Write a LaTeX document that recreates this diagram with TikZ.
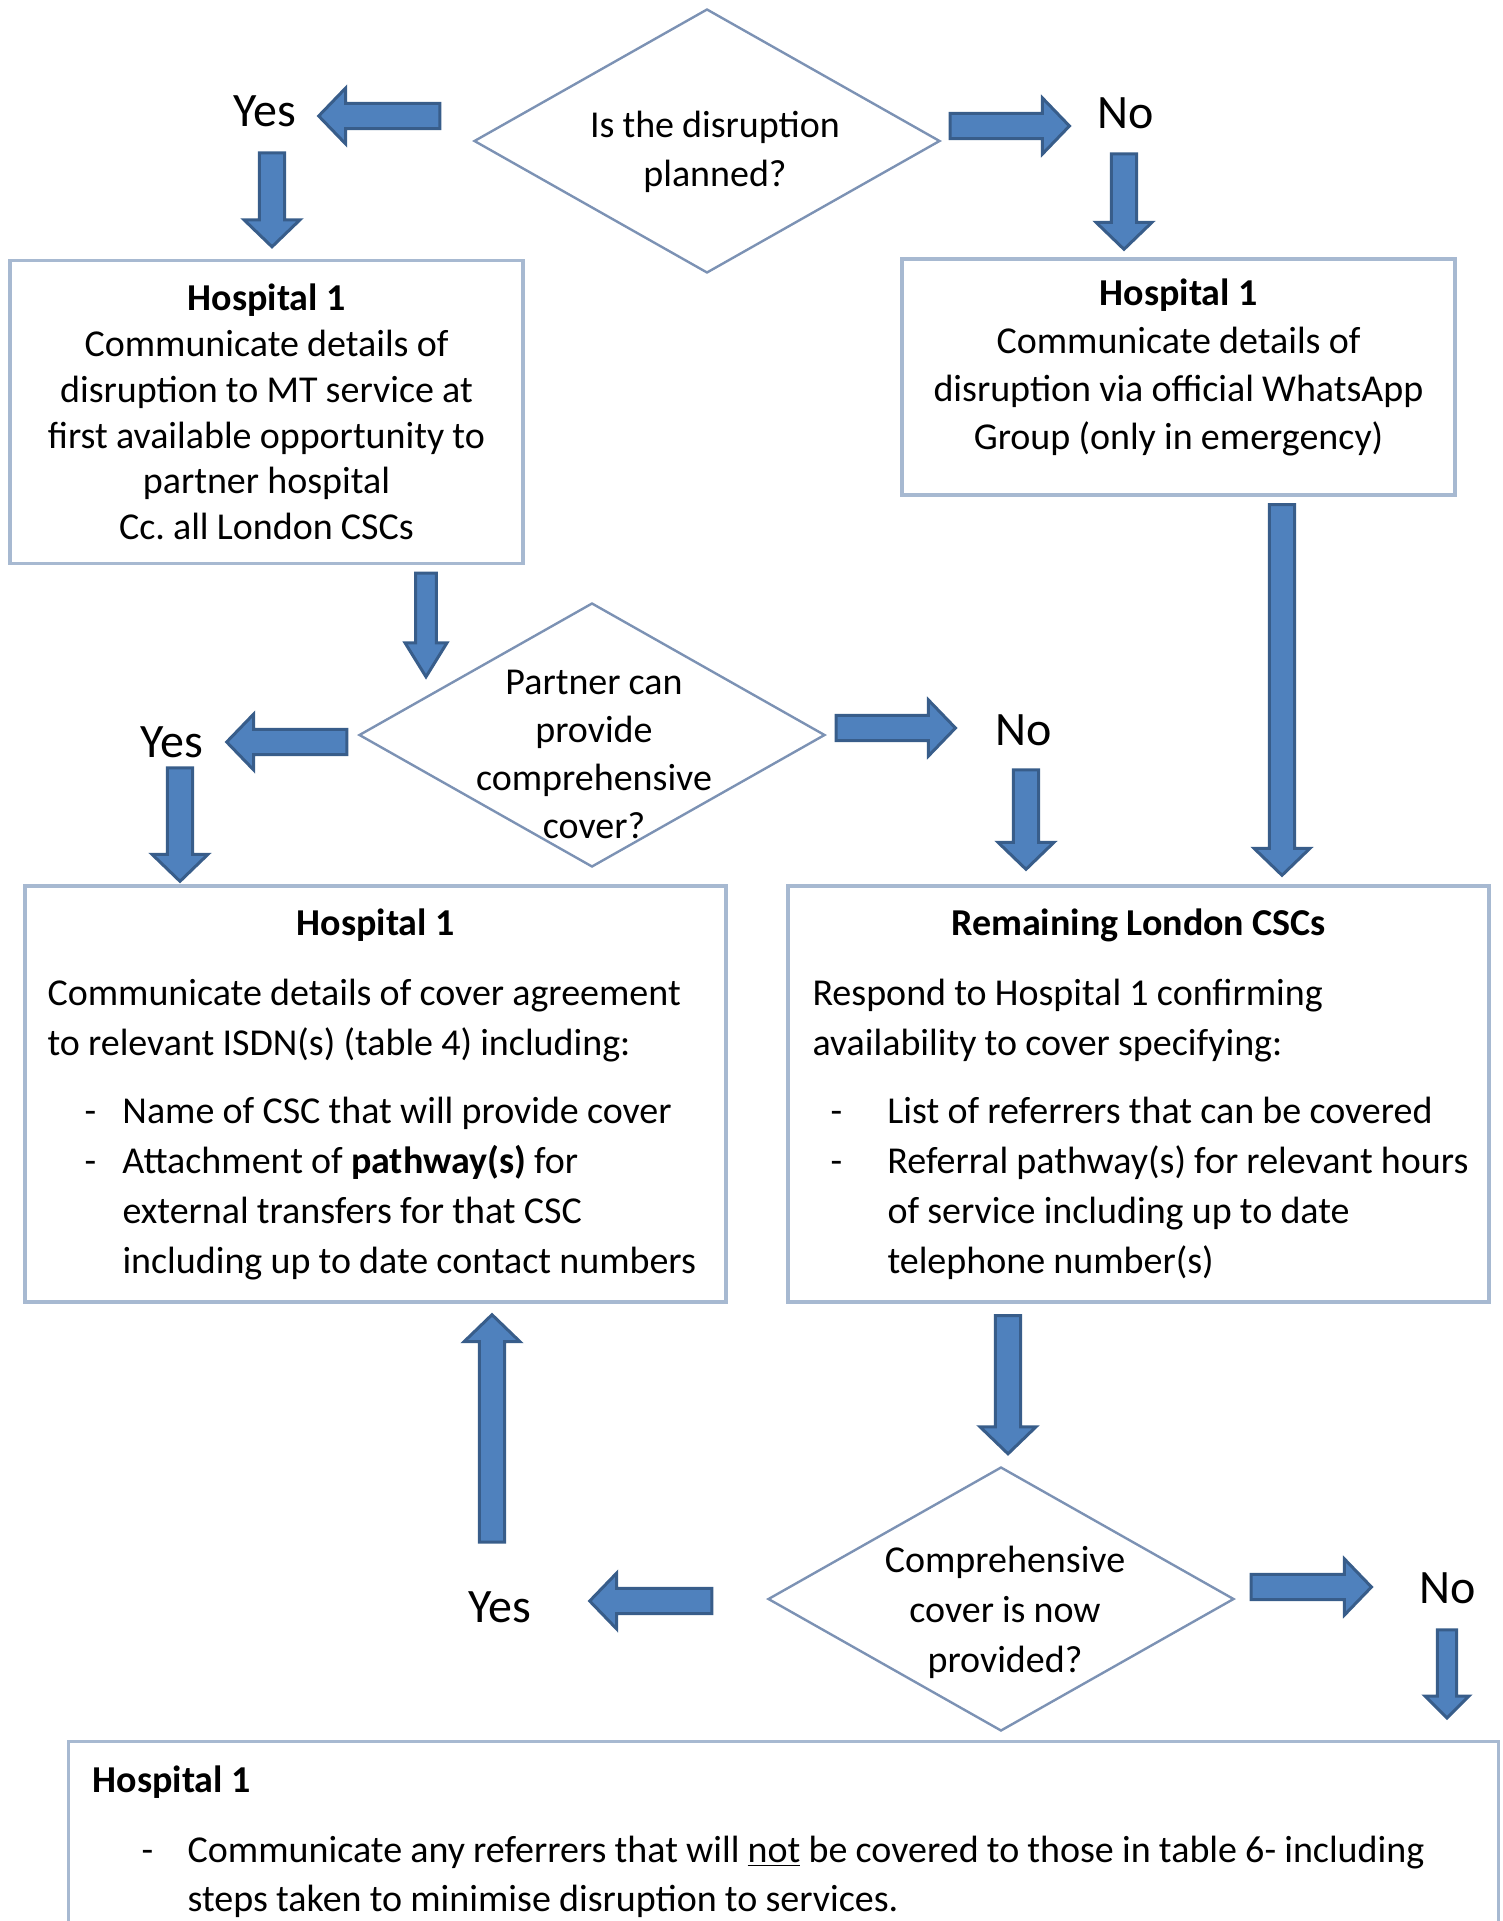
\documentclass[tikz,border=0pt]{standalone}
\usepackage{fontspec}
\setmainfont{Carlito}
\usetikzlibrary{shapes.geometric, calc, positioning}
\definecolor{ablue}{RGB}{79,129,189}
\definecolor{adark}{RGB}{56,93,138}
\definecolor{boxline}{RGB}{167,185,209}
\definecolor{dialine}{RGB}{124,146,180}
\setlength{\parindent}{0pt}
\frenchspacing
\newcommand{\txt}[1]{\fontsize{19}{#1}\selectfont\spaceskip=4pt\relax}
\newcommand{\dashitem}[3]{\makebox[#2][l]{\hspace{#1}-}\begin{tabular}[t]{@{}l@{}}#3\end{tabular}\par}
\def\fw{6.3pt}\def\fh{14pt}\def\fl{13.5pt}

\begin{document}
\begin{tikzpicture}[x=0.5pt,y=-0.5pt,
  box/.style={draw=boxline, line width=1.7pt, rectangle, inner sep=0pt, execute at begin node={\spaceskip=4.1pt\relax}},
  dia/.style={draw=dialine, line width=1.2pt, diamond, inner sep=0pt, minimum width=233pt, minimum height=132pt},
  qtxt/.style={align=center, inner sep=0pt},
  lbl/.style={font=\fontsize{24}{28}\selectfont, inner sep=0pt},
  fat/.style={draw=adark, fill=ablue, line width=1.5pt, line join=miter,
    to path={let \p1=(\tikztostart), \p2=(\tikztotarget),
      \n1={atan2(\y2-\y1,\x2-\x1)}, \n2={veclen(\x2-\x1,\y2-\y1)-\fl} in
      ([shift={(\p1)},rotate=\n1]0pt,\fw) -- ([shift={(\p1)},rotate=\n1]\n2*1pt,\fw)
      -- ([shift={(\p1)},rotate=\n1]\n2*1pt,\fh) -- (\p2)
      -- ([shift={(\p1)},rotate=\n1]\n2*1pt,-\fh) -- ([shift={(\p1)},rotate=\n1]\n2*1pt,-\fw)
      -- ([shift={(\p1)},rotate=\n1]0pt,-\fw) -- cycle}},
  slim/.code={\def\fw{5.2pt}\def\fh{10.5pt}\def\fl{17pt}},
  stub/.code={\def\fw{4.8pt}\def\fh{11pt}\def\fl{11pt}}]
  \useasboundingbox (0,0) rectangle (1503,1921);

  \node[dia] (q1) at (707,141) {};
  \node[qtxt, font=\txt{24.5}] (q1t) at (715,152) {Is the disruption\\planned?};
  \node[lbl] (y1) at (265,111) {Yes};
  \node[lbl] (n1) at (1126,113) {No};

  \node[box, minimum width=256.5pt, minimum height=151.5pt, text width=245pt, align=center, font=\txt{22.9}] (b1) at (266.5,412)
    {\textbf{Hospital 1}\\Communicate details of\\disruption to MT service at\\first available opportunity to\\partner hospital\\Cc. all London CSCs};
  \node[box, minimum width=276.5pt, minimum height=118pt, text width=265pt, text depth=85pt, align=center, font=\txt{24}] (b2) at (1178.5,377)
    {\textbf{Hospital 1}\\Communicate details of\\disruption via official WhatsApp\\Group (only in emergency)};

  \node[dia] (q2) at (592,735) {};
  \node[qtxt, font=\txt{24}] (q2t) at (594,754) {Partner can\\provide\\comprehensive\\cover?};
  \node[lbl] (y2) at (172,742) {Yes};
  \node[lbl] (n2) at (1024,730) {No};

  \node[box, minimum width=350.5pt, minimum height=208pt, inner xsep=11pt, text width=328pt, align=left, font=\txt{25}] (b3) at (375.5,1094) {%
    {\centering\rule{0pt}{17.5pt}\textbf{Hospital 1}\par}\vspace{10pt}
    Communicate details of cover agreement\\to relevant ISDN(s) (table 4) including:\par\vspace{9pt}
    \dashitem{18.5pt}{37.5pt}{Name of CSC that will provide cover}
    \dashitem{18.5pt}{37.5pt}{Attachment of \textbf{pathway(s)} for\\external transfers for that CSC\\including up to date contact numbers}};
  \node[box, minimum width=350.5pt, minimum height=208pt, inner xsep=12pt, text width=326pt, align=left, font=\txt{25}] (b4) at (1138.5,1094) {%
    {\centering\rule{0pt}{17.5pt}\textbf{Remaining London CSCs}\par}\vspace{10pt}
    Respond to Hospital 1 confirming\\availability to cover specifying:\par\vspace{9pt}
    \dashitem{9pt}{37.5pt}{List of referrers that can be covered}
    \dashitem{9pt}{37.5pt}{Referral pathway(s) for relevant hours\\of service including up to date\\telephone number(s)}};

  \node[dia] (q3) at (1001,1599) {};
  \node[qtxt, font=\txt{25}] (q3t) at (1005,1612) {Comprehensive\\cover is now\\provided?};
  \node[lbl] (y3) at (500,1607) {Yes};
  \node[lbl] (n3) at (1448,1588) {No};

  \node[box, anchor=north west, minimum width=715pt, minimum height=99pt, inner xsep=12pt, text width=691pt, align=left, font=\txt{24.5}] (b5) at (67,1740) {%
    \rule{0pt}{18.5pt}\textbf{Hospital 1}\par\vspace{10.5pt}
    \dashitem{24.5pt}{47.5pt}{Communicate any referrers that will \underline{not} be covered to those in table 6- including\\steps taken to minimise disruption to services.}};

  \draw[fat] ($(q1.west |- y1)+(-33,5)$) to ($(y1.east)+(22,5)$);
  \draw[fat] ($(y1.south)+(7,26)$) to ($(y1.south |- b1.north)+(7,-12)$);
  \draw[fat] ($(q1.east |- n1)+(9,13)$) to ($(n1.west)+(-28,13)$);
  \draw[fat] ($(n1.south)+(-2,25)$) to ($(n1.south |- b2.north)+(-2,-8)$);
  \draw[fat, slim] ($(b1.south)+(159.5,8)$) to ($(q2.north)+(-166,75)$);
  \draw[fat] ($(q2.west)+(-11,7)$) to ($(y2.east)+(23,0)$);
  \draw[fat] ($(y2.south)+(8,10)$) to ($(y2.south |- b3.north)+(8,-3)$);
  \draw[fat] ($(q2.east)+(10,-7)$) to ($(n2.west)+(-40,-2)$);
  \draw[fat] ($(n2.south)+(2,24)$) to ($(n2.south |- b4.north)+(2,-15)$);
  \draw[fat] ($(b2.south)+(103.5,8)$) to ($(b2.south |- b4.north)+(103.5,-9)$);
  \draw[fat] ($(b4.south)+(-130.5,12)$) to ($(q3.north)+(7,-12)$);
  \draw[fat] ($(y3.north)+(-8,-49)$) to ($(b3.south)+(116.5,11)$);
  \draw[fat] ($(q3.west)+(-55,2)$) to ($(y3.east)+(58,-6)$);
  \draw[fat] ($(q3.east)+(16,-12)$) to ($(n3.west)+(-48,-1)$);
  \draw[fat, stub] ($(n3.south)+(-1,26)$) to ($(n3.south |- b5.north)+(-1,-22)$);
\end{tikzpicture}
\end{document}
